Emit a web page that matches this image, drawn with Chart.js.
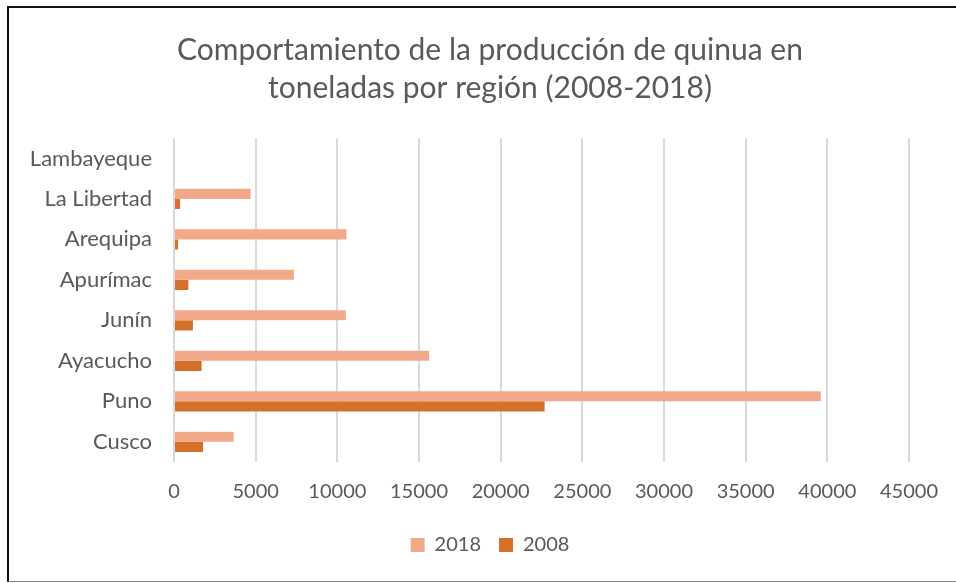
<!DOCTYPE html>
<html>
<head>
<meta charset="utf-8">
<script src="https://cdn.jsdelivr.net/npm/chart.js@4.4.1/dist/chart.umd.min.js"></script>
<style>
  html, body { margin: 0; padding: 0; background: #fff; overflow: hidden; }
  #wrap { position: relative; width: 956px; height: 583px; overflow: hidden; }
  #frame { position: absolute; left: 7px; top: 6px; width: 980px; height: 576px;
           border-top: 2px solid #111; border-left: 2px solid #111; border-bottom: 1px solid #888; box-sizing: border-box; }
  canvas { position: absolute; left: 0; top: 0; }
</style>
</head>
<body>
<div id="wrap">
  <div id="frame"></div>
  <canvas id="c" width="980" height="583"></canvas>
</div>
<script>
const categories = ['Lambayeque', 'La Libertad', 'Arequipa', 'Apurímac', 'Junín', 'Ayacucho', 'Puno', 'Cusco'];
const values2018 = [0, 4690, 10560, 7340, 10520, 15620, 39600, 3650];
const values2008 = [0, 370, 250, 880, 1160, 1690, 22690, 1780];
const seriesNames = ['2018', '2008'];
const xTicks = [0, 5000, 10000, 15000, 20000, 25000, 30000, 35000, 40000, 45000];
const titleLines = ['Comportamiento de la producción de quinua en', 'toneladas por región (2008-2018)'];

const FONT = 'Lato, "Open Sans", sans-serif';
const GRAY = '#595959';

new Chart(document.getElementById('c'), {
  type: 'bar',
  data: {
    labels: categories,
    datasets: [
      { label: seriesNames[0], data: values2018, backgroundColor: '#F2A98A', borderWidth: 0,
        categoryPercentage: 0.5, barPercentage: 1.0 },
      { label: seriesNames[1], data: values2008, backgroundColor: '#D4702A', borderWidth: 0,
        categoryPercentage: 0.5, barPercentage: 1.0 }
    ]
  },
  options: {
    indexAxis: 'y',
    responsive: false,
    animation: false,
    layout: { padding: { left: 0, right: 0, top: 20, bottom: 18 } },
    plugins: {
      title: {
        display: true, text: titleLines, color: GRAY,
        font: { family: FONT, size: 30, weight: 'normal', lineHeight: 1.27 },
        padding: { top: 11, bottom: 31 }
      },
      legend: {
        position: 'bottom',
        labels: { color: GRAY, font: { family: FONT, size: 20 }, boxWidth: 14, boxHeight: 14, padding: 18 }
      },
      tooltip: { enabled: false }
    },
    scales: {
      x: {
        min: 0, max: 45000,
        afterBuildTicks: (s) => { s.ticks = xTicks.map(v => ({ value: v })); },
        afterFit: (s) => { s.height = 55; },
        ticks: { color: GRAY, font: { family: FONT, size: 20 }, padding: 18, maxRotation: 0,
                 callback: (v) => String(v) },
        grid: { color: '#d9d9d9', lineWidth: 2, drawTicks: false },
        border: { display: false }
      },
      y: {
        afterFit: (s) => { s.width = 174; },
        ticks: { color: GRAY, font: { family: FONT, size: 22 }, padding: 22 },
        grid: { display: false, drawTicks: false },
        border: { display: false }
      },
      y2: {
        type: 'category', position: 'right', display: true,
        afterFit: (s) => { s.width = 71; },
        ticks: { display: false },
        grid: { display: false, drawTicks: false },
        border: { display: false }
      }
    }
  }
});
</script>
</body>
</html>
